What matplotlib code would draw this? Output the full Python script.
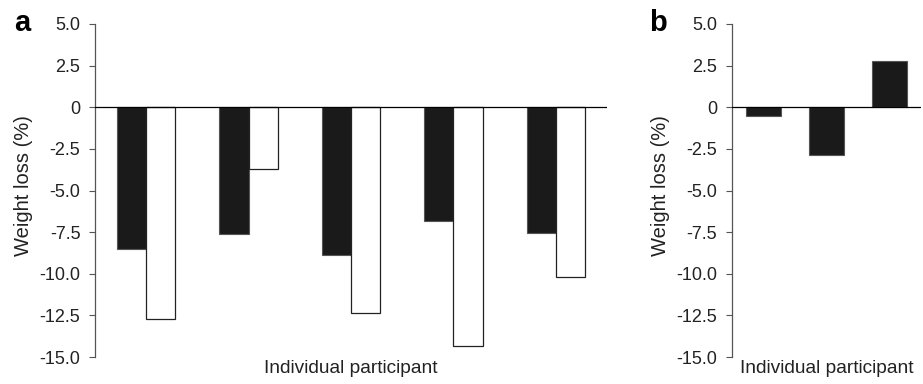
import matplotlib.pyplot as plt
import numpy as np

plt.rcParams["font.family"] = ["Liberation Sans", "DejaVu Sans"]
plt.rcParams["font.size"] = 13

# Panel a: two measurements per participant
participants_a = ["P1", "P2", "P3", "P4", "P5"]
loss_a_first = [-8.52, -7.62, -8.88, -6.82, -7.58]
loss_a_second = [-12.70, -3.70, -12.34, -14.36, -10.18]

# Panel b: one measurement per participant
participants_b = ["P6", "P7", "P8"]
loss_b = [-0.54, -2.88, 2.78]

yticks = [5.0, 2.5, 0, -2.5, -5.0, -7.5, -10.0, -12.5, -15.0]
ytick_labels = ["5.0", "2.5", "0", "-2.5", "-5.0", "-7.5", "-10.0", "-12.5", "-15.0"]


def style_axis(ax, nbars, ylabel_x):
    ax.set_ylim(-15, 5)
    ax.set_xlim(-0.5, nbars - 0.5)
    ax.set_yticks(yticks)
    ax.set_yticklabels(ytick_labels)
    ax.set_xticks([])
    for side in ["top", "right", "bottom"]:
        ax.spines[side].set_visible(False)
    ax.spines["left"].set_color("#555555")
    ax.spines["left"].set_linewidth(0.9)
    ax.tick_params(axis="y", length=4.5, width=0.8, color="#555555", pad=6,
                   labelcolor="#222222", labelsize=13)
    ax.axhline(0, color="black", linewidth=0.9, zorder=3)
    ax.set_ylabel("Weight loss (%)", fontsize=14.5, color="#222222")
    ax.yaxis.set_label_coords(ylabel_x, 0.515)
    ax.set_xlabel("Individual participant", fontsize=13.8, color="#222222",
                  labelpad=2)


fig = plt.figure(figsize=(9.23, 3.84), dpi=100)
ax_a = fig.add_axes([0.1029, 0.0703, 0.5547, 0.8672])
ax_b = fig.add_axes([0.7927, 0.0703, 0.2051, 0.8672])

x_a = np.arange(len(participants_a))
w_a = 0.285
ax_a.bar(x_a - w_a / 2, loss_a_first, width=w_a, color="#1a1a1a",
         edgecolor="#555555", linewidth=0.8)
ax_a.bar(x_a + w_a / 2, loss_a_second, width=w_a, color="white",
         edgecolor="#222222", linewidth=0.9)
style_axis(ax_a, len(participants_a), -0.1205)

x_b = np.arange(len(participants_b))
ax_b.bar(x_b, loss_b, width=0.55, color="#1a1a1a", edgecolor="#555555",
         linewidth=0.8)
style_axis(ax_b, len(participants_b), -0.326)

fig.text(0.015, 0.92, "a", fontsize=21, fontweight="bold")
fig.text(0.703, 0.92, "b", fontsize=21, fontweight="bold")

fig.savefig("out.png", dpi=100)
